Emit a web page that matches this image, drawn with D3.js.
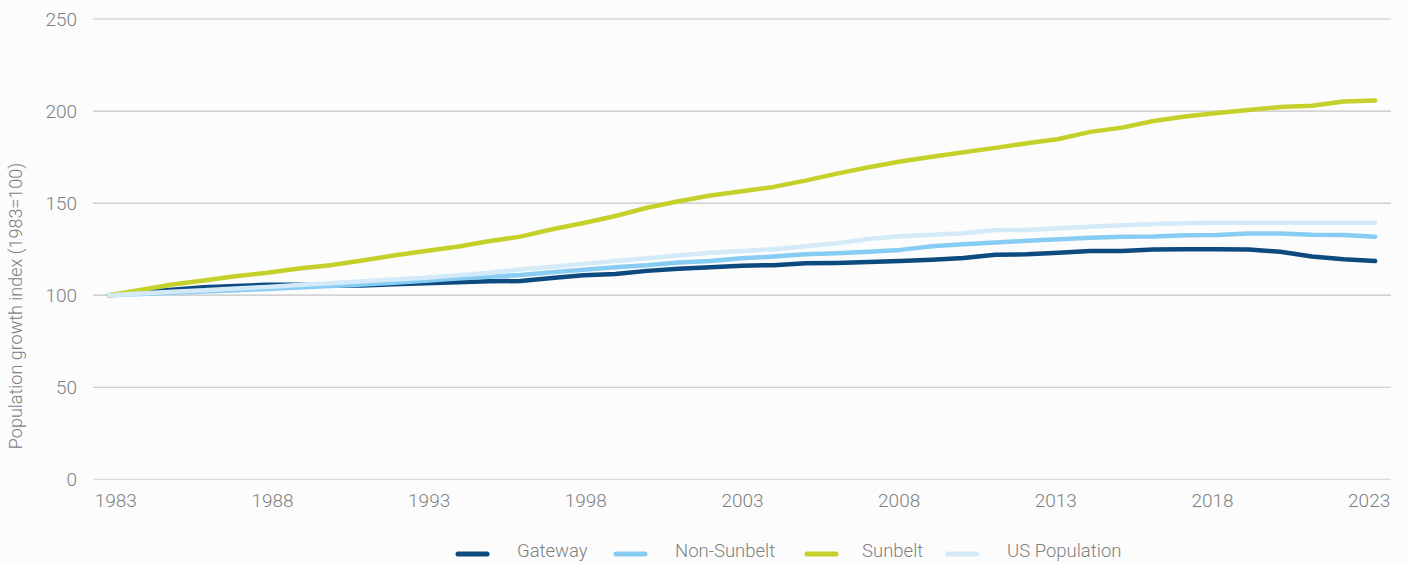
<!DOCTYPE html>
<html>
  <head>
    <meta charset="utf-8">
    <title>Population growth index</title>
    <script src="https://d3js.org/d3.v7.min.js"></script>
    <style>
      body { margin: 0; background: #fcfcfc; }
      svg text { font-family: Roboto, "Noto Sans", sans-serif; font-weight: 300; fill: #7f7f7f; }
    </style>
  </head>

  <body>
    <div class="chart"></div>

    <script>
      // years on the x axis
      var years = d3.range(1983, 2024);
      var yTicks = [0, 50, 100, 150, 200, 250];
      var xTickYears = [1983, 1988, 1993, 1998, 2003, 2008, 2013, 2018, 2023];

      // series, 1983..2023
      var gateway = [100, 101.5, 103, 104.3, 105, 105.6, 105.6, 105.2, 105.3, 106, 106.5,
        107, 107.5, 107.7, 109.3, 110.8, 111.5, 113.2, 114.3, 115.2, 116,
        116.3, 117.3, 117.5, 118, 118.5, 119.3, 120.2, 122, 122.2, 123,
        124, 124, 124.8, 125, 125, 124.8, 123.6, 121, 119.5, 118.5];
      var nonSunbelt = [100, 100.6, 101.3, 102, 102.7, 103.4, 104.2, 105, 105.8, 106.8, 107.8,
        109, 110, 111, 112.5, 113.8, 115.2, 116.3, 117.8, 118.6, 120,
        121, 122.2, 122.8, 123.6, 124.6, 126.6, 127.6, 128.6, 129.5, 130.4,
        131.2, 131.8, 131.9, 132.6, 132.7, 133.5, 133.5, 132.8, 132.7, 131.8];
      var sunbelt = [100, 102.8, 105.8, 108, 110.3, 112.2, 114.5, 116.3, 118.8, 121.5, 124,
        126.3, 129.3, 131.8, 135.8, 139.2, 143, 147.5, 151, 154.1, 156.5,
        158.8, 162.2, 166, 169.5, 172.6, 175.2, 177.6, 180, 182.5, 184.8,
        188.7, 191, 194.6, 197, 198.9, 200.6, 202.2, 202.9, 205.2, 205.8];
      var usPopulation = [100, 100.9, 101.8, 102.7, 103.6, 104.5, 105.5, 106.5, 107.5, 108.5, 109.5,
        110.8, 112, 114, 115.5, 117, 118.6, 120, 121.6, 123, 124,
        125, 126.6, 128.2, 130.5, 132, 132.8, 133.7, 135.4, 135.4, 136.3,
        137.2, 138, 138.7, 139, 139.4, 139.4, 139.4, 139.3, 139.3, 139.3];

      var seriesNames = ["Gateway", "Non-Sunbelt", "Sunbelt", "US Population"];
      var seriesValues = [gateway, nonSunbelt, sunbelt, usPopulation];
      var colors = ["#0d4a80", "#87cdf3", "#c5d12a", "#d5eaf8"];

      var width = 1408, height = 563;
      var plotLeft = 93, plotRight = 1391, plotTop = 19, plotBottom = 479.3;

      var canvas = d3.select("div.chart").append("svg")
        .attr("width", width)
        .attr("height", height);

      var x = d3.scalePoint().domain(years).range([plotLeft, plotRight]).padding(0.5);
      var y = d3.scaleLinear().domain([0, 250]).range([plotBottom, plotTop]);
      // tick labels sit a touch inside the first/last points
      var xLabel = d3.scaleLinear().domain([1983, 2023]).range([x(1983) + 7, x(2023) - 6]);

      //gridlines
      canvas.append("g")
        .selectAll("line")
        .data(yTicks)
        .enter().append("line")
        .attr("x1", plotLeft)
        .attr("x2", plotRight)
        .attr("y1", function (d) { return y(d); })
        .attr("y2", function (d) { return y(d); })
        .attr("stroke", function (d) { return d === 0 ? "#dcdcdc" : "#c4c4c4"; })
        .attr("stroke-width", 1.2);

      //y labels
      canvas.append("g")
        .selectAll("text")
        .data(yTicks)
        .enter().append("text")
        .attr("x", 77)
        .attr("y", function (d) { return y(d) + 6.5; })
        .attr("text-anchor", "end")
        .style("font-size", "19px")
        .text(function (d) { return d; });

      //x labels
      canvas.append("g")
        .selectAll("text")
        .data(xTickYears)
        .enter().append("text")
        .attr("x", function (d) { return xLabel(d); })
        .attr("y", 506.5)
        .attr("text-anchor", "middle")
        .style("font-size", "19px")
        .text(function (d) { return d; });

      canvas.append("text")
        .attr("transform", "translate(22," + 306 + ") rotate(-90)")
        .attr("text-anchor", "middle")
        .style("font-size", "18px")
        .text("Population growth index (1983=100)");

      var line = d3.line()
        .x(function (d, i) { return x(years[i]); })
        .y(function (d) { return y(d); });

      canvas.append("g")
        .selectAll("path")
        .data(seriesValues)
        .enter().append("path")
        .attr("d", line)
        .attr("fill", "none")
        .attr("stroke", function (d, i) { return colors[i]; })
        .attr("stroke-width", 4.5)
        .attr("stroke-linecap", "round")
        .attr("stroke-linejoin", "round");

      //legend
      var legendX = [456, 614, 805, 946];
      var legendTextX = [61, 61, 57, 61];
      var legend = canvas.append("g")
        .selectAll("g")
        .data(seriesNames)
        .enter().append("g")
        .attr("transform", function (d, i) { return "translate(" + legendX[i] + ",554)"; });

      legend.append("line")
        .attr("x1", 2).attr("x2", 31)
        .attr("y1", 0).attr("y2", 0)
        .attr("stroke", function (d, i) { return colors[i]; })
        .attr("stroke-width", 5)
        .attr("stroke-linecap", "round");

      legend.append("text")
        .attr("x", function (d, i) { return legendTextX[i]; })
        .attr("y", 3)
        .style("font-size", "18.5px")
        .text(function (d) { return d; });
    </script>
  </body>
</html>
